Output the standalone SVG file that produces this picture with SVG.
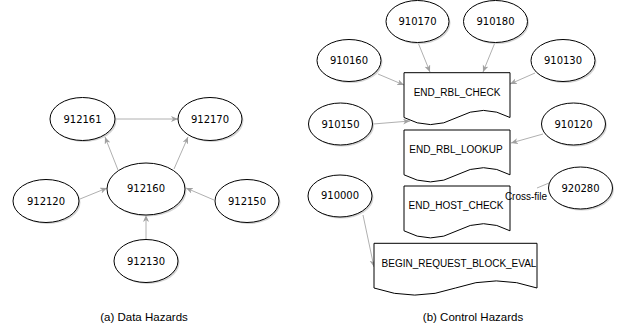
<svg xmlns="http://www.w3.org/2000/svg" width="619" height="333" viewBox="0 0 619 333">
<defs>
<style>
.sh{fill:#d4d4d4;stroke:none}
.el{fill:#fff;stroke:#000;stroke-width:1}
.doc{fill:#fff;stroke:#000;stroke-width:1}
.et{font-family:"DejaVu Sans",Verdana,sans-serif;font-size:10px;fill:#000;text-anchor:middle;dominant-baseline:central}
.bt{font-family:"Liberation Sans",Arial,sans-serif;font-size:10px;fill:#000;text-anchor:middle;dominant-baseline:central}
.cap{font-family:"Liberation Sans",Arial,sans-serif;font-size:11.5px;fill:#000;text-anchor:middle;dominant-baseline:central}
.lbl{font-family:"Liberation Sans",Arial,sans-serif;font-size:10px;fill:#000;text-anchor:middle;dominant-baseline:central}
.ed{stroke:#b0b0b0;stroke-width:1;fill:none;marker-end:url(#ah)}
.edn{stroke:#b0b0b0;stroke-width:1;fill:none}
</style>
<marker id="ah" markerUnits="userSpaceOnUse" markerWidth="8" markerHeight="7" refX="7" refY="3" orient="auto">
<path d="M0,0 L7,3 L0,6 L2,3 Z" fill="#a0a0a0"/>
</marker>
</defs>
<rect width="619" height="333" fill="#fff"/>

<g id="connectors">
<line class="ed" x1="115" y1="119" x2="178" y2="119"/>
<line class="ed" x1="118" y1="170" x2="105" y2="137"/>
<line class="ed" x1="174" y1="169" x2="188" y2="137"/>
<line class="ed" x1="80" y1="199" x2="107" y2="188"/>
<line class="ed" x1="214" y1="200" x2="186" y2="188"/>
<line class="ed" x1="146" y1="239" x2="146" y2="215"/>

<line class="ed" x1="418" y1="42.5" x2="430" y2="72"/>
<line class="ed" x1="495" y1="42.5" x2="483" y2="72"/>
<line class="ed" x1="378" y1="74" x2="404" y2="85"/>
<line class="ed" x1="535" y1="73" x2="510" y2="84"/>
<line class="ed" x1="373" y1="124" x2="410" y2="121"/>
<line class="ed" x1="543" y1="134" x2="511" y2="143"/>
<line class="edn" x1="549" y1="183" x2="537" y2="188"/>
<line class="ed" x1="363" y1="215" x2="374" y2="267"/>
</g>

<g id="n912161"><ellipse class="sh" cx="84" cy="120.5" rx="32.5" ry="21.5"/><ellipse class="el" cx="82.5" cy="119" rx="32.5" ry="21.5"/><text class="et" x="82.5" y="119">912161</text></g>
<g id="n912170"><ellipse class="sh" cx="211.5" cy="120.5" rx="32" ry="21.5"/><ellipse class="el" cx="210" cy="119" rx="32" ry="21.5"/><text class="et" x="210" y="119">912170</text></g>
<g id="n912160"><ellipse class="sh" cx="147.5" cy="190.5" rx="39" ry="26"/><ellipse class="el" cx="146" cy="189" rx="39" ry="26"/><text class="et" x="146" y="188">912160</text></g>
<g id="n912120"><ellipse class="sh" cx="47.5" cy="202.5" rx="33" ry="21.5"/><ellipse class="el" cx="46" cy="201" rx="33" ry="21.5"/><text class="et" x="46" y="201">912120</text></g>
<g id="n912150"><ellipse class="sh" cx="248.5" cy="202.5" rx="32" ry="21.5"/><ellipse class="el" cx="247" cy="201" rx="32" ry="21.5"/><text class="et" x="247" y="201">912150</text></g>
<g id="n912130"><ellipse class="sh" cx="147.5" cy="262.5" rx="32" ry="21.5"/><ellipse class="el" cx="146" cy="261" rx="32" ry="21.5"/><text class="et" x="146" y="261">912130</text></g>

<g id="n910170"><ellipse class="sh" cx="419" cy="23" rx="31.5" ry="21"/><ellipse class="el" cx="417.5" cy="21.5" rx="31.5" ry="21"/><text class="et" x="417.5" y="21.5">910170</text></g>
<g id="n910180"><ellipse class="sh" cx="497" cy="23" rx="32" ry="21"/><ellipse class="el" cx="495.5" cy="21.5" rx="32" ry="21"/><text class="et" x="495.5" y="21.5">910180</text></g>
<g id="n910160"><ellipse class="sh" cx="350.5" cy="62" rx="32" ry="21"/><ellipse class="el" cx="349" cy="60.5" rx="32" ry="21"/><text class="et" x="349" y="60.5">910160</text></g>
<g id="n910130"><ellipse class="sh" cx="564.5" cy="62" rx="32" ry="21"/><ellipse class="el" cx="563" cy="60.5" rx="32" ry="21"/><text class="et" x="563" y="60.5">910130</text></g>
<g id="n910150"><ellipse class="sh" cx="342" cy="125.5" rx="32" ry="21"/><ellipse class="el" cx="340.5" cy="124" rx="32" ry="21"/><text class="et" x="340.5" y="124">910150</text></g>
<g id="n910120"><ellipse class="sh" cx="575" cy="125.5" rx="32" ry="21"/><ellipse class="el" cx="573.5" cy="124" rx="32" ry="21"/><text class="et" x="573.5" y="124">910120</text></g>
<g id="n920280"><ellipse class="sh" cx="582" cy="189.5" rx="32" ry="21"/><ellipse class="el" cx="580.5" cy="188" rx="32" ry="21"/><text class="et" x="580.5" y="188">920280</text></g>
<g id="n910000"><ellipse class="sh" cx="341.5" cy="197.5" rx="32" ry="21"/><ellipse class="el" cx="340" cy="196" rx="32" ry="21"/><text class="et" x="340" y="195">910000</text></g>

<g id="END_RBL_CHECK"><path class="doc" d="M404,72.7 H510 V117.5 Q483.5,103.3 457,117.5 Q430.5,131.7 404,117.5 Z"/><text class="bt" x="457" y="92">END_RBL_CHECK</text></g>
<g id="END_RBL_LOOKUP"><path class="doc" d="M404,130 H510 V174.8 Q483.5,160.6 457,174.8 Q430.5,189 404,174.8 Z"/><text class="bt" x="456" y="149">END_RBL_LOOKUP</text></g>
<g id="END_HOST_CHECK"><path class="doc" d="M404,186 H510 V230.8 Q483.5,216.6 457,230.8 Q430.5,245 404,230.8 Z"/><text class="bt" x="456" y="205">END_HOST_CHECK</text></g>
<g id="BEGIN_REQUEST_BLOCK_EVAL"><path class="doc" d="M374,243.3 H537 V288 Q496.25,273.8 455.5,288 Q414.75,302.2 374,288 Z"/><text class="bt" x="459" y="263.5">BEGIN_REQUEST_BLOCK_EVAL</text></g>

<text class="lbl" x="526" y="196">Cross-file</text>

<text class="cap" x="144" y="317">(a) Data Hazards</text>
<text class="cap" x="473" y="317">(b) Control Hazards</text>
</svg>
